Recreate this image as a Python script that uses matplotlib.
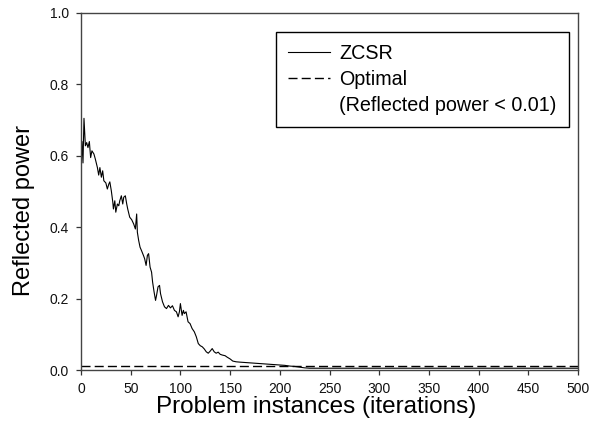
import matplotlib
matplotlib.use('Agg')
import matplotlib.pyplot as plt
from matplotlib.lines import Line2D

# ZCSR reflected power per problem instance
iterations = [0, 1, 2, 3, 4.4, 5.7, 7, 8.4, 9.7, 11, 13, 14.4, 16.5, 17.8, 19, 20.5,
              21.8, 23, 25, 26.5, 28, 29, 30.5, 32, 32.6, 34, 35, 36.6, 38, 39,
              40.6, 42, 43, 44.6, 46, 47, 49, 51, 53, 54.7, 56, 56.7, 58, 59.4,
              60.8, 62.8, 64, 65.5, 66.8, 68, 69.5, 71, 72, 73.5, 75, 76, 77.5,
              79, 80, 82, 84, 86, 88, 90, 92, 94, 96, 97.7, 99, 100, 101.7, 103,
              104, 105.7, 107.7, 109.7, 111.8, 114, 116, 118, 120, 122, 124, 126,
              128, 130, 132, 134, 136, 138, 140, 142, 145, 147, 150, 152.7, 156,
              160, 165, 170, 175, 180, 185, 190, 195, 200, 205, 210, 215, 220,
              225, 230, 240, 260, 280, 300, 330, 360, 400, 440, 470, 500]
reflected_power = [0.565, 0.64, 0.58, 0.705, 0.628, 0.637, 0.623, 0.64, 0.595, 0.614,
                   0.605, 0.591, 0.567, 0.546, 0.567, 0.54, 0.558, 0.53, 0.524, 0.507,
                   0.521, 0.527, 0.502, 0.47, 0.451, 0.474, 0.442, 0.465, 0.46, 0.474,
                   0.488, 0.465, 0.484, 0.488, 0.465, 0.451, 0.428, 0.421, 0.409,
                   0.395, 0.437, 0.386, 0.363, 0.344, 0.335, 0.321, 0.312, 0.293,
                   0.321, 0.326, 0.288, 0.274, 0.247, 0.219, 0.195, 0.209, 0.233,
                   0.237, 0.214, 0.191, 0.177, 0.172, 0.181, 0.174, 0.18, 0.167,
                   0.163, 0.149, 0.163, 0.186, 0.153, 0.167, 0.158, 0.163, 0.135,
                   0.13, 0.116, 0.107, 0.093, 0.074, 0.068, 0.065, 0.059, 0.051,
                   0.047, 0.053, 0.06, 0.051, 0.047, 0.05, 0.044, 0.042, 0.04, 0.036,
                   0.031, 0.025, 0.023, 0.022, 0.021, 0.02, 0.019, 0.018, 0.017,
                   0.016, 0.015, 0.014, 0.013, 0.011, 0.01, 0.008, 0.006, 0.005,
                   0.005, 0.005, 0.005, 0.005, 0.005, 0.005, 0.005, 0.005, 0.005,
                   0.005]
optimal_threshold = 0.01

x_ticks = [0, 50, 100, 150, 200, 250, 300, 350, 400, 450, 500]
y_ticks = [0.0, 0.2, 0.4, 0.6, 0.8, 1.0]
series_labels = ['ZCSR', 'Optimal', '(Reflected power < 0.01)']

plt.rcParams['font.family'] = ['Liberation Sans', 'DejaVu Sans']

W, H = 595, 438
fig = plt.figure(figsize=(W / 100, H / 100), dpi=100)
ax = fig.add_axes([81 / W, 68 / H, 497 / W, 357 / H])

zcsr_line, = ax.plot(iterations, reflected_power, color='black', lw=0.8)
opt_line = ax.axhline(optimal_threshold, color='black', lw=1.0, dashes=(6.5, 3.0))

ax.set_xlim(0, 500)
ax.set_ylim(0, 1.0)
ax.set_xticks(x_ticks)
ax.set_xticklabels([str(t) for t in x_ticks])
ax.set_yticks(y_ticks)
ax.set_yticklabels([f'{t:.1f}' for t in y_ticks])
ax.tick_params(axis='both', direction='out', length=3.6, width=0.9,
               labelsize=10, color='#333333', labelcolor='#111111')
ax.tick_params(axis='y', pad=5)
ax.tick_params(axis='x', pad=5)
for s in ax.spines.values():
    s.set_color('#444444')
    s.set_linewidth(1.0)

ax.set_xlabel('Problem instances (iterations)', fontsize=17.5, va='center')
ax.xaxis.set_label_coords((316 - 81) / 497, (370 - 407) / 357)
ax.set_ylabel('Reflected power', fontsize=17, va='center')
ax.yaxis.set_label_coords((24 - 81) / 497, (370 - 210) / 357)

blank = Line2D([], [], color='none')
leg = ax.legend([zcsr_line, opt_line, blank], series_labels,
                loc='upper right', bbox_to_anchor=(569 / W, 1 - 32 / H),
                bbox_transform=fig.transFigure, borderaxespad=0,
                fancybox=False, edgecolor='black', framealpha=1, fontsize=14.2,
                handlelength=2.1, handletextpad=0.5, labelspacing=0.34,
                borderpad=0.62)
leg.get_frame().set_linewidth(1.0)

fig.savefig('out.png', dpi=100)
